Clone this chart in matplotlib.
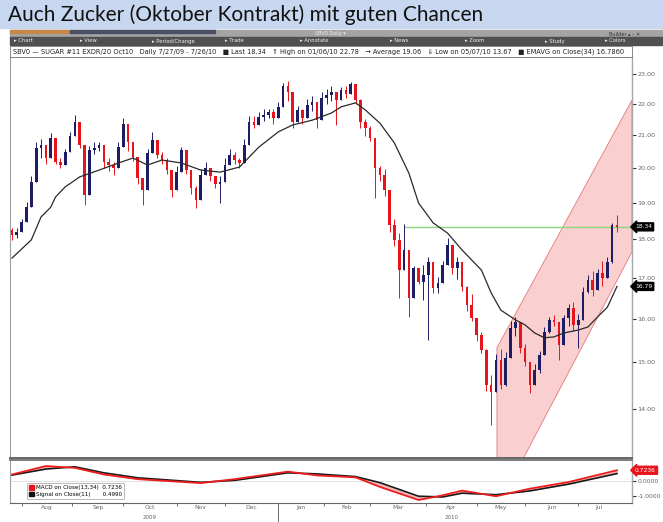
import numpy as np
import pandas as pd
import matplotlib
matplotlib.use('Agg')
import matplotlib.pyplot as plt
import matplotlib.transforms as mtransforms
from matplotlib.patches import Rectangle, Polygon, Patch

# each bar = 2 trading days, 27 Jul 2009 .. 26 Jul 2010
month_names = ['Jul', 'Aug', 'Sep', 'Oct', 'Nov', 'Dec', 'Jan', 'Feb', 'Mar', 'Apr', 'May', 'Jun', 'Jul']
month_days = [5, 21, 21, 22, 20, 22, 19, 19, 23, 21, 20, 22, 17]

first_open = 18.25
high = [18.30, 18.30, 18.56, 19.02, 19.78, 20.80, 20.89, 20.67, 21.08, 20.67,
        20.31, 20.58, 21.11, 21.64, 21.29, 19.72, 20.67, 20.80, 20.80, 20.49,
        20.31, 20.19, 20.80, 21.55, 20.98, 20.67, 20.07, 19.72, 20.58, 21.11,
        20.58, 20.49, 20.31, 19.89, 20.07, 20.64, 20.19, 19.78, 19.49, 19.98,
        20.19, 19.98, 19.69, 19.78, 20.31, 20.58, 20.49, 20.31, 20.89, 21.61,
        21.61, 21.74, 21.84, 21.84, 21.84, 22.07, 22.70, 22.78, 22.07, 21.94,
        21.84, 22.16, 22.26, 21.94, 22.39, 22.49, 22.60, 22.39, 22.56, 22.60,
        22.74, 22.49, 22.16, 21.52, 21.29, 20.40, 20.07, 19.98, 18.97, 18.56,
        18.17, 18.42, 16.90, 17.30, 17.23, 17.33, 17.54, 16.98, 17.02, 17.43,
        18.04, 17.75, 17.54, 17.10, 16.80, 16.61, 16.01, 15.69, 15.30, 14.72,
        15.19, 15.30, 15.24, 15.96, 16.05, 15.77, 15.42, 15.01, 14.97, 15.26,
        15.81, 16.05, 16.10, 15.81, 16.10, 16.36, 16.41, 16.12, 16.78, 17.07,
        17.17, 17.23, 17.43, 17.54, 18.45, 18.67]
low = [17.99, 18.04, 18.30, 18.69, 19.25, 20.19, 20.31, 20.13, 20.73, 20.13,
       20.01, 20.22, 20.73, 21.14, 20.61, 18.94, 20.22, 20.43, 20.52, 20.01,
       19.92, 19.80, 20.43, 21.05, 20.52, 20.22, 19.55, 18.94, 20.22, 20.61,
       20.31, 20.13, 19.83, 19.17, 19.72, 20.31, 19.83, 19.25, 18.86, 19.63,
       19.83, 19.63, 19.43, 19.00, 19.83, 20.22, 20.13, 20.01, 20.22, 20.92,
       21.23, 21.36, 21.45, 21.55, 21.36, 21.68, 22.33, 22.10, 21.23, 21.45,
       21.36, 21.68, 21.78, 21.23, 21.78, 22.00, 22.10, 21.33, 22.20, 22.20,
       22.36, 22.00, 21.23, 20.98, 20.83, 19.14, 19.63, 19.20, 18.20, 17.83,
       16.51, 17.41, 16.05, 16.75, 16.85, 16.46, 15.51, 16.63, 16.63, 17.12,
       17.38, 17.10, 16.98, 16.68, 16.19, 15.96, 15.49, 15.21, 14.38, 13.67,
       14.47, 14.42, 14.49, 15.21, 15.60, 15.21, 14.92, 14.34, 14.60, 14.76,
       15.26, 15.67, 15.84, 15.06, 15.60, 15.84, 15.72, 15.33, 16.24, 16.63,
       16.56, 16.87, 16.80, 17.17, 17.38, 18.20]
close = [18.12, 18.20, 18.47, 18.88, 19.60, 20.61, 20.70, 20.31, 20.92, 20.19,
         20.10, 20.49, 20.98, 21.42, 20.70, 19.22, 20.55, 20.61, 20.70, 20.19,
         20.10, 20.01, 20.64, 21.36, 20.80, 20.34, 19.72, 19.37, 20.46, 20.86,
         20.40, 20.25, 19.95, 19.37, 19.89, 20.55, 19.95, 19.43, 19.08, 19.80,
         20.01, 19.78, 19.55, 19.60, 20.10, 20.40, 20.25, 20.16, 20.70, 21.42,
         21.33, 21.58, 21.64, 21.74, 21.55, 21.91, 22.60, 22.39, 21.42, 21.81,
         21.55, 21.97, 22.07, 21.48, 22.20, 22.30, 22.39, 22.13, 22.46, 22.33,
         22.66, 22.13, 21.42, 21.23, 20.92, 20.01, 19.80, 19.37, 18.39, 17.99,
         17.20, 17.72, 16.51, 17.25, 16.90, 17.07, 17.41, 16.75, 16.87, 17.33,
         17.85, 17.25, 17.41, 16.78, 16.33, 16.03, 15.62, 15.28, 14.51, 14.36,
         15.06, 14.51, 15.10, 15.79, 15.93, 15.33, 15.01, 14.51, 14.83, 15.17,
         15.70, 15.98, 15.93, 15.40, 16.03, 16.26, 15.86, 15.98, 16.66, 16.95,
         16.70, 17.12, 17.00, 17.41, 18.40, 18.34]

# EMA(34) at some bars
ema_idx = [0, 4, 6, 8, 9, 11, 14, 18, 22, 25, 28, 31, 35, 39, 43, 47, 51, 55, 58, 62,
           66, 68, 71, 73, 76, 79, 82, 84, 87, 90, 93, 97, 99, 101, 104, 106, 108, 110,
           112, 114, 117, 119, 121, 123, 125]
ema_val = [17.51, 17.99, 18.61, 18.88, 19.17, 19.46, 19.75, 19.95, 20.16, 20.31, 20.10,
           20.25, 20.16, 19.95, 19.89, 20.04, 20.64, 21.11, 21.33, 21.48, 21.71, 21.91,
           22.04, 21.81, 21.39, 20.77, 19.86, 19.00, 18.45, 18.17, 17.72, 17.20, 16.63,
           16.21, 15.98, 15.86, 15.67, 15.56, 15.58, 15.67, 15.74, 15.81, 16.05, 16.28, 16.79]

# MACD panel
macd_idx = [0, 7, 13, 19, 26, 39, 46, 57, 63, 71, 76, 84, 89, 93, 100, 107, 115, 125]
macd_val = [0.44, 1.00, 0.88, 0.44, 0.13, -0.13, 0.13, 0.63, 0.38, 0.25, -0.38, -1.25,
            -0.94, -0.63, -1.00, -0.50, -0.06, 0.72]
signal_val = [0.40, 0.80, 0.95, 0.55, 0.22, -0.08, 0.05, 0.55, 0.48, 0.30, -0.10, -1.00,
              -1.05, -0.80, -0.90, -0.65, -0.20, 0.50]

price_ticks = [14, 15, 16, 17, 18, 19, 20, 21, 22, 23]
last_price = 18.34
line_start = 81   # green horizontal line starts at the March high

# trend channel (bar, price)
chan_x = [100.2, 100.2, 128.1, 128.1, 105.0]
chan_y = [12.9, 15.33, 22.13, 17.67, 12.9]

W, H = 663, 522
fig = plt.figure(figsize=(W / 100, H / 100), dpi=100)

def fx(x):
    return x / W

def fy(y):
    return 1 - y / H

# header band
fig.patches.append(Rectangle((0, fy(28)), 1, 28 / H, transform=fig.transFigure,
                             color='#c8d7f0', zorder=0))
fig.text(fx(8), fy(15), 'Auch Zucker (Oktober Kontrakt) mit guten Chancen',
         fontsize=15, family='Lato', va='center', ha='left', color='#111111')

# toolbar
fig.patches.append(Rectangle((fx(10), fy(37)), fx(653), 7 / H, transform=fig.transFigure,
                             color='#a4a4a4', zorder=0))
fig.patches.append(Rectangle((fx(10), fy(33)), fx(60), 3 / H, transform=fig.transFigure,
                             color='#c8874a', zorder=1))
fig.patches.append(Rectangle((fx(70), fy(33)), fx(145), 3 / H, transform=fig.transFigure,
                             color='#4a5064', zorder=1))
fig.patches.append(Rectangle((fx(10), fy(45)), fx(653), 8 / H, transform=fig.transFigure,
                             color='#505050', zorder=0))
fig.text(fx(330), fy(34), 'SBV0 Daily ▾', fontsize=3.5, color='#eeeeee', va='center', ha='center')
fig.text(fx(625), fy(34), 'Builder ▴ – ✕', fontsize=3.5, color='#333333', va='center', ha='center')
tools = [('Chart', 14), ('View', 80), ('Period/Change', 152), ('Trade', 225), ('Annotate', 300),
         ('News', 390), ('Zoom', 465), ('Study', 545), ('Colors', 605)]
for name, xp in tools:
    fig.text(fx(xp), fy(41), '▸ ' + name, fontsize=3.8, color='#f0f0f0', va='center', ha='left')

# info line
fig.patches.append(Rectangle((fx(10), fy(57)), fx(622), 11 / H, transform=fig.transFigure,
                             facecolor='white', edgecolor='#777777', lw=0.6, zorder=0))
info = ('SBV0 — SUGAR #11 EXDR/20 Oct10   Daily 7/27/09 - 7/26/10   ■ Last 18.34   '
        '⇑ High on 01/06/10 22.78   → Average 19.06   ⇓ Low on 05/07/10 13.67   '
        '■ EMAVG on Close(34) 16.7860')
fig.text(fx(13), fy(51.5), info, fontsize=4.8, color='#222222', va='center', ha='left')

# main price axes
ax = fig.add_axes([fx(10), fy(458), fx(622), (458 - 57) / H])
n = len(close)
idx = np.arange(n)
c = np.array(close)
o = np.concatenate([[first_open], c[:-1]])
hi = np.maximum(np.array(high), np.maximum(o, c))
lo = np.minimum(np.array(low), np.minimum(o, c))
up = c >= o
cols = np.where(up, '#1d1d66', '#e8141c')

ax.add_patch(Polygon(list(zip(chan_x, chan_y)), closed=True, facecolor='#f9cfcf',
                     edgecolor='#e47a7a', lw=0.6, zorder=1))
ax.hlines(last_price, line_start, 130, color='#8fd47f', lw=1.0, zorder=2)
ax.vlines(idx, lo, hi, colors=cols, lw=0.7, zorder=3)
bottoms = np.minimum(o, c)
heights = np.maximum(np.abs(c - o), 0.04)
ax.bar(idx, heights, bottom=bottoms, width=0.55, color=cols, zorder=4)
ax.plot(ema_idx, ema_val, color='#2a2a2a', lw=0.9, zorder=5)

ax.set_yscale('log')
ax.set_xlim(-0.41, 128.1)
ax.set_ylim(13.02, 23.59)
ax.yaxis.tick_right()
ax.set_yticks(price_ticks)
ax.set_yticklabels(['%.2f' % t for t in price_ticks])
ax.yaxis.set_minor_locator(matplotlib.ticker.NullLocator())
ax.tick_params(axis='y', labelsize=4.6, colors='#333333', labelcolor='#666666',
               length=3, width=0.8, pad=1)
ax.set_xticks([])
for s, col, w in [('left', '#a0a0a0', 0.8), ('right', '#a8a8a8', 1.0),
                  ('top', '#777777', 0.6), ('bottom', '#666666', 1.4)]:
    ax.spines[s].set_color(col)
    ax.spines[s].set_linewidth(w)

tr = mtransforms.blended_transform_factory(ax.transAxes, ax.transData)
for val, txt in [(last_price, '18.34'), (ema_val[-1], '16.79')]:
    ax.text(1.005, val, txt, transform=tr, fontsize=4.3, color='white', va='center', ha='left',
            bbox=dict(boxstyle='larrow,pad=0.25', fc='black', ec='black'), clip_on=False)

# MACD axes
ax2 = fig.add_axes([fx(10), fy(503), fx(622), (503 - 460) / H])
ax2.axhline(0, color='#dcdcdc', lw=0.6)
ax2.fill_between(macd_idx, macd_val, signal_val, color='#f6b8b8', lw=0)
ax2.plot(macd_idx, signal_val, color='#1a1a1a', lw=1.2)
ax2.plot(macd_idx, macd_val, color='#ee1c1c', lw=1.3)
ax2.set_xlim(-0.41, 128.1)
ax2.set_ylim(-1.45, 1.4)
ax2.yaxis.tick_right()
ax2.set_yticks([0, -1])
ax2.set_yticklabels(['0.0000', '-1.0000'])
ax2.tick_params(axis='y', labelsize=4.4, colors='#333333', labelcolor='#666666',
                length=3, width=0.8, pad=1)
for s, col, w in [('left', '#a0a0a0', 0.8), ('right', '#a8a8a8', 1.0),
                  ('top', '#666666', 1.2), ('bottom', '#666666', 0.8)]:
    ax2.spines[s].set_color(col)
    ax2.spines[s].set_linewidth(w)

tr2 = mtransforms.blended_transform_factory(ax2.transAxes, ax2.transData)
ax2.text(1.005, macd_val[-1], '0.7236', transform=tr2, fontsize=4.3, color='white',
         va='center', ha='left', clip_on=False,
         bbox=dict(boxstyle='larrow,pad=0.25', fc='#e8141c', ec='#e8141c'))

bounds = np.cumsum([0] + month_days) / 2 - 0.5
centers = (bounds[:-1] + bounds[1:]) / 2
ax2.set_xticks(bounds[1:-1])
ax2.set_xticklabels([])
ax2.tick_params(axis='x', length=2, width=0.6, colors='#555555')
ax2.set_xticks(centers[1:], minor=True)
ax2.set_xticklabels(month_names[1:], minor=True)
ax2.tick_params(axis='x', which='minor', length=0, labelsize=4.3, labelcolor='#666666', pad=1.5)

trx = mtransforms.blended_transform_factory(ax2.transData, ax2.transAxes)
ax2.text(centers[3], -0.29, '2009', transform=trx, fontsize=4.0, color='#666666',
         ha='center', va='top')
ax2.text(centers[9], -0.29, '2010', transform=trx, fontsize=4.0, color='#666666',
         ha='center', va='top')
ax2.plot([bounds[6], bounds[6]], [-0.05, -0.42], transform=trx, color='#555555',
         lw=0.6, clip_on=False)

handles = [Patch(color='#e8141c'), Patch(color='#111111')]
leg = ax2.legend(handles, ['MACD on Close(13,34)  0.7236', 'Signal on Close(11)       0.4990'],
                 loc='lower left', bbox_to_anchor=(0.022, 0.02), fontsize=4.1,
                 handlelength=0.9, handleheight=0.9, handletextpad=0.3, borderpad=0.4,
                 labelspacing=0.25, frameon=True, fancybox=True)
leg.get_frame().set_edgecolor('#999999')
leg.get_frame().set_linewidth(0.6)

fig.savefig('out.png', dpi=100)
